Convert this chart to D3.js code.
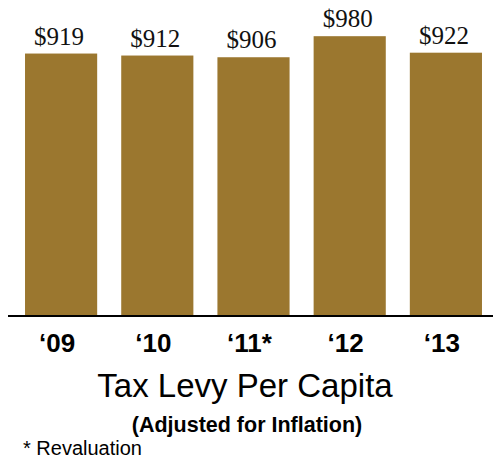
<!DOCTYPE html>
<html>
<head>
<meta charset="utf-8">
<script src="https://cdn.jsdelivr.net/npm/d3@7"></script>
<style>
  html, body { margin: 0; padding: 0; background: #fff; }
  svg { display: block; }
</style>
</head>
<body>
<script>
// Tax levy per capita, inflation-adjusted dollars
const years = ["\u201809", "\u201810", "\u201811*", "\u201812", "\u201813"];
const levy = [919, 912, 906, 980, 922];
const valueLabels = ["$919", "$912", "$906", "$980", "$922"];

const W = 493, H = 458;
const baseY = 315;

const svg = d3.select("body").append("svg")
  .attr("width", W).attr("height", H);

const x = d3.scaleBand()
  .domain(years)
  .range([13, 494])
  .paddingInner(0.25)
  .paddingOuter(0.125);

const y = d3.scaleLinear()
  .domain([0, 1000])
  .range([baseY, 30.5]);

const data = years.map((yr, i) => ({ yr, v: levy[i], label: valueLabels[i] }));

// bars
svg.append("g").selectAll("rect")
  .data(data)
  .join("rect")
  .attr("x", d => x(d.yr))
  .attr("width", x.bandwidth())
  .attr("y", d => y(d.v))
  .attr("height", d => y(0) - y(d.v))
  .attr("fill", "#9b772f");

// value labels above bars
svg.append("g").selectAll("text")
  .data(data)
  .join("text")
  .attr("x", d => x(d.yr) + x.bandwidth() / 2 - 2)
  .attr("y", d => y(d.v) - 9)
  .attr("text-anchor", "middle")
  .attr("font-family", "'Liberation Serif', serif")
  .attr("font-size", 25)
  .attr("fill", "#111")
  .text(d => d.label);

// x axis
const xAxis = svg.append("g")
  .attr("transform", `translate(0,${baseY})`)
  .call(d3.axisBottom(x).tickSize(0).tickPadding(0));
xAxis.select(".domain").remove();
xAxis.append("line")
  .attr("x1", 8).attr("x2", W)
  .attr("y1", 1).attr("y2", 1)
  .attr("stroke", "#000").attr("stroke-width", 2);
xAxis.selectAll(".tick text")
  .attr("y", 37)
  .attr("dy", null)
  .attr("dx", -4)
  .attr("font-family", "'Liberation Sans', Arial, sans-serif")
  .attr("font-weight", "bold")
  .attr("font-size", 26)
  .attr("fill", "#000");

// titles
svg.append("text")
  .attr("x", 245).attr("y", 397)
  .attr("text-anchor", "middle")
  .attr("font-family", "'Liberation Sans', Arial, sans-serif")
  .attr("font-size", 33)
  .attr("fill", "#000")
  .text("Tax Levy Per Capita");

svg.append("text")
  .attr("x", 247).attr("y", 432)
  .attr("text-anchor", "middle")
  .attr("font-family", "'Liberation Sans', Arial, sans-serif")
  .attr("font-weight", "bold")
  .attr("font-size", 21.5)
  .attr("fill", "#000")
  .text("(Adjusted for Inflation)");

svg.append("text")
  .attr("x", 23).attr("y", 455)
  .attr("font-family", "'Liberation Sans', Arial, sans-serif")
  .attr("font-size", 20)
  .attr("fill", "#000")
  .text("* Revaluation");
</script>
</body>
</html>
